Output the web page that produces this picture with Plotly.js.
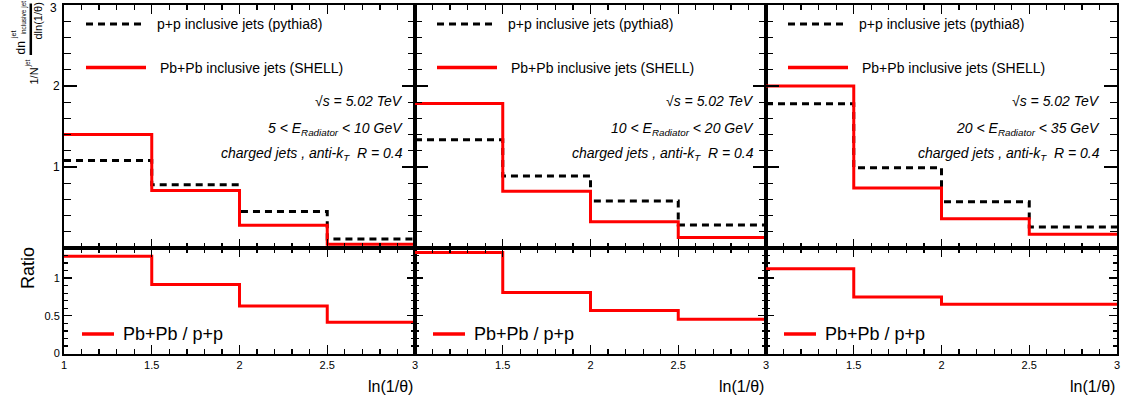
<!DOCTYPE html>
<html>
<head>
<meta charset="utf-8">
<script src="https://cdn.plot.ly/plotly-3.0.1.min.js"></script>
<style>html,body{margin:0;padding:0;background:#fff;}#plot{width:1130px;height:399px;}</style>
</head>
<body>
<div id="plot"></div>
<script>
// ---- data ----
const binEdges = [1, 1.5, 2, 2.5, 3];
const xTickValsFirst = [1, 1.5, 2, 2.5, 3];
const xTickTextFirst = ['1', '1.5', '2', '2.5', '3'];
const xTickValsOther = [1.5, 2, 2.5, 3];
const xTickTextOther = ['1.5', '2', '2.5', '3'];
const yTopTickVals = [1, 2, 3];
const yTopTickText = ['1', '2', ''];
const yTopMaxLabel = '3';
const yBotTickVals = [0, 0.5, 1];
const yBotTickText = ['0', '0.5', '1'];

const ppP1 = [1.08, 0.78, 0.45, 0.11];
const pbP1 = [1.40, 0.71, 0.28, 0.045];
const ratioP1 = [1.29, 0.915, 0.63, 0.415];

const ppP2 = [1.335, 0.89, 0.58, 0.285];
const pbP2 = [1.785, 0.70, 0.325, 0.13];
const ratioP2 = [1.34, 0.81, 0.57, 0.455];

const ppP3 = [1.78, 0.99, 0.57, 0.26];
const pbP3 = [2.00, 0.74, 0.36, 0.17];
const ratioP3 = [1.125, 0.75, 0.655, 0.655];

const ppName = 'p+p inclusive jets (pythia8)';
const pbName = 'Pb+Pb inclusive jets (SHELL)';
const ratioName = 'Pb+Pb / p+p';
const sqrtsLabel = '√s = 5.02 TeV';
const energyLabels = ['5 &lt; E<sub>Radiator</sub> &lt; 10 GeV', '10 &lt; E<sub>Radiator</sub> &lt; 20 GeV', '20 &lt; E<sub>Radiator</sub> &lt; 35 GeV'];
const jetLabel = 'charged jets , anti-k<sub>T</sub>  R = 0.4';
const xTitle = 'ln(1/θ)';

// ---- layout helpers ----
const W = 1130, H = 399;
const X = p => p / W;
const Y = p => 1 - p / H;
const FONT = 'Liberation Sans, Arial, Helvetica, sans-serif';
const panelLeft = [64, 415, 766];
const panelRight = [415, 766, 1117];
const topY = [5, 248], botY = [248, 353.5];

const ppSets = [ppP1, ppP2, ppP3];
const pbSets = [pbP1, pbP2, pbP3];
const ratioSets = [ratioP1, ratioP2, ratioP3];

function stepY(v) { return v.concat([v[v.length - 1]]); }

const traces = [];
for (let i = 0; i < 3; i++) {
  const xt = i === 0 ? 'x' : 'x' + (i + 1);
  const yt = i === 0 ? 'y' : 'y' + (i + 1);
  traces.push({x: binEdges, y: stepY(ppSets[i]), xaxis: xt, yaxis: yt, mode: 'lines', line: {shape: 'hv', color: 'black', width: 3, dash: '7px,5px'}, showlegend: false, hoverinfo: 'skip', name: ppName});
  traces.push({x: binEdges, y: stepY(pbSets[i]), xaxis: xt, yaxis: yt, mode: 'lines', line: {shape: 'hv', color: '#ff0000', width: 3}, showlegend: false, hoverinfo: 'skip', name: pbName});
  traces.push({x: binEdges, y: stepY(ratioSets[i]), xaxis: 'x' + (i + 4), yaxis: 'y' + (i + 4), mode: 'lines', line: {shape: 'hv', color: '#ff0000', width: 3}, showlegend: false, hoverinfo: 'skip', name: ratioName});
}

function xAxis(i, anchor, vals, labels, show) {
  return {
    domain: [X(panelLeft[i]), X(panelRight[i])], range: [1, 3], anchor: anchor,
    showline: true, linewidth: 2, linecolor: 'black', mirror: 'allticks',
    ticks: 'inside', ticklen: 9, tickwidth: 1.3, tickcolor: 'black',
    tickmode: 'array', tickvals: vals, ticktext: labels, showticklabels: show,
    ticklabeloverflow: 'allow',
    tickfont: {family: FONT, size: 11, color: 'black'},
    minor: {tickmode: 'linear', tick0: 1, dtick: 0.1, ticks: 'inside', ticklen: 5, tickwidth: 1.3, tickcolor: 'black', showgrid: false},
    showgrid: false, zeroline: false, fixedrange: true
  };
}
function yAxis(i, anchor, dom, range, vals, text, minorD, len, show, fs) {
  return {
    domain: dom, range: range, anchor: anchor,
    showline: true, linewidth: 2, linecolor: 'black', mirror: 'allticks',
    ticks: 'inside', ticklen: len, tickwidth: 1.3, tickcolor: 'black',
    tickmode: 'array', tickvals: vals, ticktext: text, showticklabels: show,
    ticklabeloverflow: 'allow',
    tickfont: {family: FONT, size: fs, color: 'black'},
    minor: {tickmode: 'linear', tick0: 0, dtick: minorD, ticks: 'inside', ticklen: Math.round(len / 2), tickwidth: 1.3, tickcolor: 'black', showgrid: false},
    showgrid: false, zeroline: false, fixedrange: true
  };
}

const layout = {
  width: W, height: H, margin: {l: 0, r: 0, t: 0, b: 0},
  paper_bgcolor: 'white', plot_bgcolor: 'white',
  font: {family: FONT, color: 'black'},
  showlegend: false,
  annotations: [], shapes: []
};
const topDom = [Y(topY[1]), Y(topY[0])];
const botDom = [Y(botY[1]), Y(botY[0])];
for (let i = 0; i < 3; i++) {
  const sx = i === 0 ? '' : String(i + 1);
  layout['xaxis' + sx] = xAxis(i, 'y' + sx, xTickValsFirst, xTickTextFirst, false);
  layout['yaxis' + sx] = yAxis(i, 'x' + sx, topDom, [0, 3], yTopTickVals, yTopTickText, 0.2, 13, i === 0, 12);
  const bx = String(i + 4);
  layout['xaxis' + bx] = i === 0 ? xAxis(i, 'y' + bx, xTickValsFirst, xTickTextFirst, true)
                                 : xAxis(i, 'y' + bx, xTickValsOther, xTickTextOther, true);
  layout['yaxis' + bx] = yAxis(i, 'x' + bx, botDom, [0, 1.4], yBotTickVals, yBotTickText, 0.1, 8, i === 0, 11);
}

const A = layout.annotations, S = layout.shapes;
function txt(t, px, py, opts) {
  A.push(Object.assign({text: t, x: X(px), y: Y(py), xref: 'paper', yref: 'paper', showarrow: false,
    xanchor: 'center', yanchor: 'middle', font: {family: FONT, size: 12, color: 'black'}}, opts || {}));
}
function seg(x0, y0, x1, y1, line) {
  S.push({type: 'line', xref: 'paper', yref: 'paper', x0: X(x0), y0: Y(y0), x1: X(x1), y1: Y(y1), line: line});
}

// top tick label "3" sits at the very top edge; keep it fully inside the picture
A.push({text: yTopMaxLabel, x: X(58), y: Y(0.5), xref: 'paper', yref: 'paper', showarrow: false,
  xanchor: 'right', yanchor: 'top', borderpad: 0, font: {family: FONT, size: 12, color: 'black'}});

const infoOff = [10, 10, 15];
for (let i = 0; i < 3; i++) {
  const L = panelLeft[i], R = panelRight[i];
  // legend (top)
  seg(L + 22, 24, L + 80, 24, {color: 'black', width: 3, dash: '7px,5px'});
  txt(ppName, L + 91, 24, {xanchor: 'left', font: {family: FONT, size: 14, color: 'black'}});
  seg(L + 22, 67.5, L + 82, 67.5, {color: '#ff0000', width: 3.5});
  txt(pbName, L + 94, 67.5, {xanchor: 'left', font: {family: FONT, size: 14, color: 'black'}});
  // info text
  const rx = R - infoOff[i];
  txt('<i>' + sqrtsLabel + '</i>', rx, 101, {xanchor: 'right', font: {family: FONT, size: 14, color: 'black'}});
  txt('<i>' + energyLabels[i] + '</i>', rx, 129, {xanchor: 'right', font: {family: FONT, size: 14, color: 'black'}});
  txt('<i>' + jetLabel + '</i>', rx, 154, {xanchor: 'right', font: {family: FONT, size: 14, color: 'black'}});
  // legend (bottom)
  seg(L + 18, 334, L + 50, 334, {color: '#ff0000', width: 3.5});
  txt(ratioName, L + 57, 334, {xanchor: 'left', font: {family: FONT, size: 18, color: 'black'}});
  // x title
  txt(xTitle, R, 386, {xanchor: 'right', font: {family: FONT, size: 16, color: 'black'}});
}

// y titles
txt('Ratio', 28, 268, {textangle: -90, font: {family: FONT, size: 18, color: 'black'}});
seg(30.8, 3.5, 30.8, 55, {color: 'black', width: 2.5});
txt('dn', 21, 48.5, {textangle: -90, font: {family: FONT, size: 12, color: 'black'}});
txt('jet', 14, 35, {textangle: -90, font: {family: FONT, size: 7, color: 'black'}});
txt('inclusive jet', 23.5, 18, {textangle: -90, font: {family: FONT, size: 6.5, color: 'black'}});
txt('dln(1/θ)', 37.5, 21, {textangle: -90, font: {family: FONT, size: 11, color: 'black'}});
txt('1/N', 33.5, 76, {textangle: -90, font: {family: FONT, size: 11, color: 'black'}});
txt('jet', 27, 63.5, {textangle: -90, font: {family: FONT, size: 6.5, color: 'black'}});

Plotly.newPlot('plot', traces, layout, {displayModeBar: false, staticPlot: true}).then(function (gd) {
  // drop the invisible placeholder texts (unused axis titles / blank tick labels)
  gd.querySelectorAll('text').forEach(function (t) {
    const op = t.getAttribute('opacity') || t.style.opacity;
    const cls = t.getAttribute('class') || '';
    if (!t.textContent.trim() || op === '0' || /title/.test(cls) && !/annotation/.test(cls)) {
      t.parentNode.removeChild(t);
    }
  });
});
</script>
</body>
</html>
